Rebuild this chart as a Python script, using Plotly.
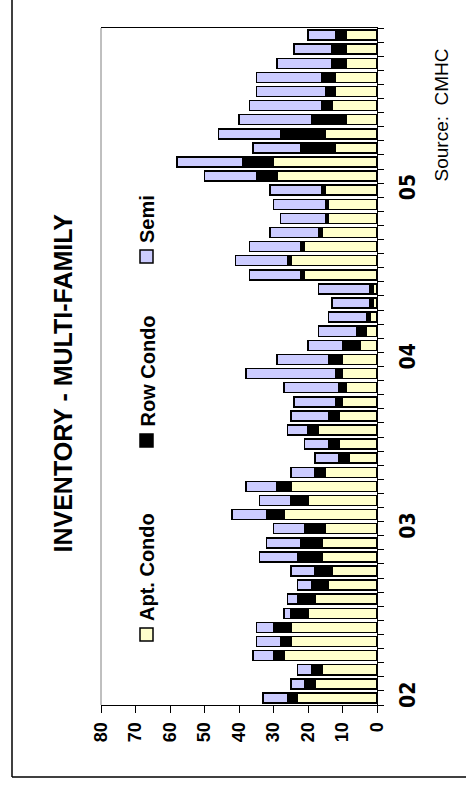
import plotly.graph_objects as go

# ---------------- data (monthly, Jan 2002 -> Dec 2005) ----------------
apt_condo = [23, 18, 16, 27, 25, 25, 20, 18, 14, 13, 16, 16,
             15, 27, 20, 25, 15, 8, 11, 17, 11, 10, 9, 10,
             10, 5, 3, 2, 1, 1, 21, 25, 21, 16, 14, 14,
             15, 29, 30, 12, 15, 9, 13, 12, 12, 9, 9, 9]
row_condo = [3, 3, 3, 3, 3, 5, 5, 5, 5, 5, 7, 6,
             6, 5, 5, 4, 3, 3, 3, 3, 3, 2, 2, 2,
             4, 5, 3, 1, 1, 1, 1, 1, 1, 1, 1, 1,
             1, 6, 9, 10, 13, 10, 3, 3, 4, 4, 4, 3]
semi = [7, 4, 4, 6, 7, 5, 2, 3, 4, 7, 11, 10,
        9, 10, 9, 9, 7, 7, 7, 6, 11, 12, 16, 26,
        15, 10, 11, 11, 11, 15, 15, 15, 15, 14, 13, 15,
        15, 15, 19, 14, 18, 21, 21, 20, 19, 16, 11, 8]
months = list(range(48))
year_tick_pos = [0, 12, 24, 36]
year_tick_text = ["02", "03", "04", "05"]
value_ticks = [0, 10, 20, 30, 40, 50, 60, 70, 80]
series_names = ["Apt. Condo", "Row Condo", "Semi"]
series_colors = ["#FFFFCC", "#000000", "#CCCCFF"]

W, H = 466, 786
L, R, T, B = 101, 89, 28, 81
PW, PH = W - L - R, H - T - B

def px(x):
    return (x - L) / PW

def py(y):
    return (H - B - y) / PH

FONT = "Liberation Sans, Arial, sans-serif"
NARROW = "Liberation Sans Narrow, Arial Narrow, DejaVu Sans Condensed, sans-serif"

fig = go.Figure()
for name, vals, col in zip(series_names, [apt_condo, row_condo, semi], series_colors):
    fig.add_trace(go.Bar(x=vals, y=months, orientation="h", name=name,
                         marker=dict(color=col, line=dict(color="black", width=1.5)),
                         showlegend=False))
fig.add_trace(go.Scatter(x=[None], y=[None], yaxis="y2", showlegend=False))

shapes = []
annotations = []
# plot area left border (gray)
shapes.append(dict(type="line", xref="paper", yref="paper", x0=0, x1=0, y0=0, y1=1,
                   line=dict(color="#808080", width=1)))
# outer frame
shapes.append(dict(type="line", xref="paper", yref="paper", x0=px(12), x1=px(12),
                   y0=py(777), y1=py(-10), line=dict(color="black", width=1.5)))
shapes.append(dict(type="line", xref="paper", yref="paper", x0=px(12), x1=px(480),
                   y0=py(777), y1=py(777), line=dict(color="black", width=1.5)))

# rotated legend
legend_marker_top = [628, 434, 250]
for name, col, ytop in zip(series_names, series_colors, legend_marker_top):
    shapes.append(dict(type="rect", xref="paper", yref="paper",
                       x0=px(140), x1=px(153), y0=py(ytop + 13), y1=py(ytop),
                       fillcolor=col, line=dict(color="black", width=1.5)))
    annotations.append(dict(text=f"<b>{name}</b>", xref="paper", yref="paper",
                            x=px(147), y=py(ytop - 5), xanchor="center", yanchor="bottom",
                            textangle=-90, showarrow=False,
                            font=dict(family=FONT, size=20, color="black")))

# title
annotations.append(dict(text="<b>INVENTORY - MULTI-FAMILY</b>", xref="paper", yref="paper",
                        x=px(62), y=py(555), xanchor="center", yanchor="bottom",
                        textangle=-90, showarrow=False,
                        font=dict(family=FONT, size=25, color="black")))
# source
annotations.append(dict(text="Source:  CMHC", xref="paper", yref="paper",
                        x=px(441), y=py(184), xanchor="center", yanchor="bottom",
                        textangle=-90, showarrow=False,
                        font=dict(family=FONT, size=19, color="black")))

fig.update_layout(
    width=W, height=H,
    margin=dict(l=L, r=R, t=T, b=B, pad=0),
    paper_bgcolor="white", plot_bgcolor="white",
    barmode="stack", bargap=0.29,
    xaxis=dict(range=[80, 0], tickvals=value_ticks, tickangle=-90,
               tickfont=dict(family=FONT, size=18, color="black"),
               ticks="outside", ticklen=7, tickcolor="black", tickwidth=1,
               showline=True, linecolor="black", linewidth=1, mirror=True,
               showgrid=False, zeroline=False, ticklabelstandoff=2),
    yaxis=dict(range=[-0.5, 47.5], side="right",
               tickvals=[k - 0.5 for k in range(49)], showticklabels=False,
               ticks="outside", ticklen=6, tickcolor="black", tickwidth=1,
               showline=True, linecolor="black", linewidth=1,
               showgrid=False, zeroline=False),
    yaxis2=dict(range=[-0.5, 47.5], overlaying="y", side="right", anchor="x",
                tickvals=year_tick_pos, ticktext=year_tick_text, tickangle=-90,
                tickfont=dict(family=NARROW, size=21, color="black"),
                ticks="", showline=False, showgrid=False, zeroline=False,
                ticklabelstandoff=16),
    shapes=shapes, annotations=annotations,
)
fig.update_yaxes(tickfont_weight="bold", selector=dict(overlaying="y"))
fig.update_xaxes(tickfont_weight="bold")
fig.write_html("out.html")
